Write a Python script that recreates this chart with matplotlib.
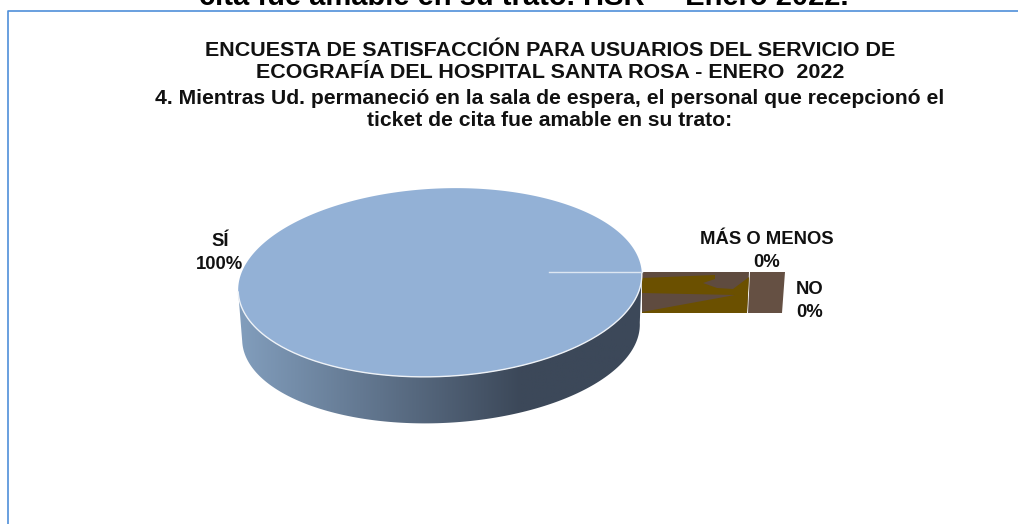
import numpy as np
from matplotlib import pyplot as plt
from matplotlib.patches import Polygon

plt.rcParams['font.family'] = ['Liberation Sans', 'DejaVu Sans']

categories = ['SÍ', 'MÁS O MENOS', 'NO']
values = [100, 0, 0]
label_text = [f"{c}\n{v}%" for c, v in zip(categories, values)]

caption = 'cita fue amable en su trato. HSR \u2013  Enero 2022.'
title_lines = ['ENCUESTA DE SATISFACCIÓN PARA USUARIOS DEL SERVICIO DE',
               'ECOGRAFÍA DEL HOSPITAL SANTA ROSA - ENERO  2022',
               '4. Mientras Ud. permaneció en la sala de espera, el personal que recepcionó el',
               'ticket de cita fue amable en su trato:']


def ellipse(cx, cy, rx, ry, t, tilt=-2.7):
    a = np.radians(tilt)
    x = rx * np.cos(t)
    y = -ry * np.sin(t)
    return np.column_stack([cx + x * np.cos(a) - y * np.sin(a),
                            cy + x * np.sin(a) + y * np.cos(a)])


fig = plt.figure(figsize=(10.18, 5.24), dpi=100)
ax = fig.add_axes([0, 0, 1, 1])
ax.set_xlim(0, 1018)
ax.set_ylim(524, 0)
ax.axis('off')

# frame
ax.plot([8, 8, 1018], [524, 10.5, 10.5], color='#4F8FD9', lw=1.2)

ax.text(524, 5, caption, ha='center', va='baseline', fontsize=21, fontweight='bold', color='black')
for line, y, size in zip(title_lines, [50, 73, 98, 121], [15.45, 15.45, 15.2, 15.2]):
    ax.text(550, y, line, ha='center', va='center', fontsize=size, fontweight='bold', color='#111111')

# pie side, one gradient clipped to the lower rim
t = np.linspace(np.pi, 2 * np.pi, 200)
top_rim = ellipse(440, 282.5, 202, 94, t)
low_rim = ellipse(441, 332, 199, 91, t)
side = Polygon(np.vstack([top_rim, low_rim[::-1]]), closed=True, fc='none', ec='none')
ax.add_patch(side)
grad = np.linspace(0, 1, 256).reshape(1, -1, 1)
c0 = np.array([0x82, 0x9E, 0xBD]) / 255
c1 = np.array([0x3C, 0x48, 0x59]) / 255
img = ax.imshow(c0 + (c1 - c0) * np.clip(grad / 0.7, 0, 1), extent=[238, 642, 430, 260], aspect='auto', zorder=2)
img.set_clip_path(side)
ax.set_xlim(0, 1018)
ax.set_ylim(524, 0)

# pie top, sweep from the share of each category
sweep = 2 * np.pi * values[0] / sum(values)
t = np.linspace(0, sweep, 500)
top = ellipse(440, 282.5, 202, 94, t)
ax.add_patch(Polygon(top, closed=True, fc='#93B1D6', ec='none', zorder=3))
ax.plot(top_rim[:, 0], top_rim[:, 1], color='#EEF2F7', lw=1, zorder=3.5)
ax.plot([549, 642], [271.5, 271.5], color='#DCE6F2', lw=1, zorder=4)

# zero slices seen edge on
ax.add_patch(Polygon([[642, 272], [749, 272], [747, 313], [642, 313]], closed=True, fc='#5F4B3F', ec='none', zorder=2))
ax.add_patch(Polygon([[642, 278], [715, 275], [715, 279], [703, 283], [717, 288], [733, 289], [749, 277], [747, 313],
                      [642, 313], [642, 312], [735, 295], [642, 293]], closed=True, fc='#6B5000', ec='none', zorder=2.1))
ax.add_patch(Polygon([[750, 272], [785, 272], [782, 313], [748, 313]], closed=True, fc='#655043', ec='none', zorder=2))

for text, x, y in zip(label_text, [220, 767, 810], [253, 251, 301]):
    ax.text(x, y, text, ha='center', va='center', fontsize=13.3, fontweight='bold', color='#111111',
            linespacing=1.4, zorder=5)

fig.savefig('out.png', dpi=100)
